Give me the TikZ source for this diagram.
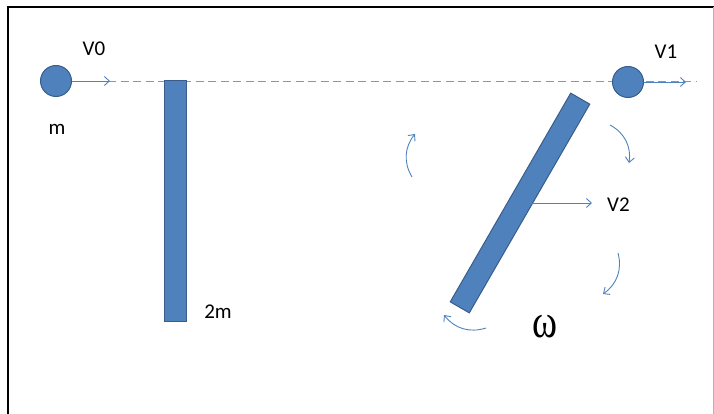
\documentclass[tikz,border=0pt]{standalone}
\usepackage{fontspec}
\setmainfont{Carlito}
\newfontfamily\greekfont{Liberation Serif}
\usetikzlibrary{arrows.meta}
\definecolor{barblue}{RGB}{79,129,189}
\definecolor{bardark}{RGB}{56,93,138}

\begin{document}
\begin{tikzpicture}[x=1pt,y=-1pt,>={Straight Barb[length=5pt,width=9pt]},
  ball/.style={circle,fill=barblue,draw=bardark,line width=1pt,minimum size=31pt,inner sep=0pt},
  rod/.style={rectangle,fill=barblue,draw=bardark,line width=1pt,minimum width=22pt,minimum height=241pt,inner sep=0pt},
  vel/.style={->,barblue,line width=.9pt},
  spin/.style={->,barblue,line width=.9pt,bend left=35},
  lbl/.style={font=\fontsize{21}{24}\selectfont,inner sep=0pt}]
\useasboundingbox (0,0) rectangle (714,414);
% frame
\draw[black,line width=1.6pt] (8,414)--(8,7)--(714,7);
\draw[gray!60,line width=.8pt] (713,7)--(713,414);
% path of the small mass
\coordinate (dashend) at (696,81);
\draw[barblue!80,dash pattern=on 8pt off 4.5pt,line width=.9pt] (108,81)--(dashend);
\node[ball] (m0) at (56,81) {};
\node[ball] (m1) at (628,82) {};
\coordinate (v0tip) at (110,81);
\coordinate (v1tip) at (686,82);
\draw[vel] (m0.east)--(v0tip);
\draw[vel] (m1.east)--(v1tip);
\node[lbl] (v0) at (94,49) {V0};
\node[lbl] (mlbl) at (57,129) {m};
\node[lbl] (v1) at (666,52) {V1};
% rod before and after
\node[rod] (rodA) at (175,201) {};
\node[lbl] (mm) at (218,312) {2m};
\node[rod,rotate=-30] (rodB) at (520,203) {};
\coordinate (v2tip) at (592,203);
\draw[vel] (rodB.center)--(v2tip);
\node[lbl,anchor=west] (v2) at (607,205) {V2};
% rotation
\coordinate (s1a) at (412,177); \coordinate (s1b) at (415,134);
\coordinate (s2a) at (610,125); \coordinate (s2b) at (629,163);
\coordinate (s3a) at (618,253); \coordinate (s3b) at (603,294);
\coordinate (s4a) at (486,328); \coordinate (s4b) at (444,315);
\draw[spin] (s1a) to (s1b);
\draw[spin] (s2a) to (s2b);
\draw[spin] (s3a) to (s3b);
\draw[spin] (s4a) to (s4b);
\node[inner sep=0pt,yscale=1.25,font=\greekfont\fontsize{38}{38}\selectfont] (omega) at (545,327) {ω};
\end{tikzpicture}
\end{document}
